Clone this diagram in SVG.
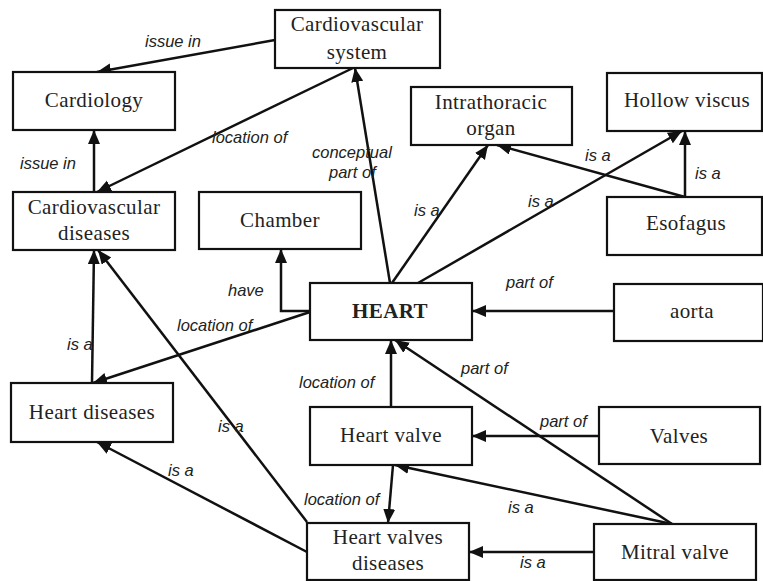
<svg xmlns="http://www.w3.org/2000/svg" width="763" height="581" viewBox="0 0 763 581">
<style>
.box{fill:#fff;stroke:#111;stroke-width:2.2}
.nt{font-family:"Liberation Serif","Times New Roman",serif;font-size:21px;letter-spacing:0.4px;fill:#222;text-anchor:middle}
.bold{font-weight:bold}
.lb{font-family:"Liberation Sans",Arial,sans-serif;font-size:16.5px;font-style:italic;fill:#222}
.c{fill:none;stroke:#111;stroke-width:2.5;marker-end:url(#ah)}
</style>
<defs>
<marker id="ah" markerUnits="userSpaceOnUse" markerWidth="15" markerHeight="13" refX="14" refY="6" orient="auto">
<path d="M0,0 L14,6 L0,12 z" fill="#111"/>
</marker>
</defs>
<rect width="763" height="581" fill="#fff"/>
<g id="connectors">
<line class="c" x1="275" y1="40" x2="97" y2="72"/>
<line class="c" x1="94" y1="192" x2="94" y2="130"/>
<line class="c" x1="353" y1="68" x2="97" y2="192"/>
<line class="c" x1="390" y1="283" x2="355" y2="68"/>
<line class="c" x1="392" y1="283" x2="488" y2="145"/>
<line class="c" x1="418" y1="283" x2="682" y2="131"/>
<line class="c" x1="685" y1="197" x2="497" y2="145"/>
<line class="c" x1="685" y1="197" x2="685" y2="131"/>
<polyline class="c" points="310,311 281,311 281,249"/>
<line class="c" x1="310" y1="312" x2="93" y2="383"/>
<line class="c" x1="92" y1="383" x2="94" y2="250"/>
<line class="c" x1="307" y1="522" x2="98" y2="250"/>
<line class="c" x1="307" y1="552" x2="97" y2="442"/>
<line class="c" x1="391" y1="407" x2="391" y2="340"/>
<line class="c" x1="672" y1="524" x2="395" y2="340"/>
<line class="c" x1="599" y1="436" x2="472" y2="436"/>
<line class="c" x1="393" y1="465" x2="388" y2="523"/>
<line class="c" x1="672" y1="524" x2="395" y2="465"/>
<line class="c" x1="594" y1="552" x2="469" y2="552"/>
<line class="c" x1="614" y1="311" x2="472" y2="311"/>
<text class="lb" x="145" y="47">issue in</text>
<text class="lb" x="20" y="169">issue in</text>
<text class="lb" x="212" y="143">location of</text>
<text class="lb" x="312" y="158">conceptual</text>
<text class="lb" x="329" y="178">part of</text>
<text class="lb" x="414" y="216">is a</text>
<text class="lb" x="528" y="207">is a</text>
<text class="lb" x="585" y="161">is a</text>
<text class="lb" x="695" y="179">is a</text>
<text class="lb" x="228" y="296">have</text>
<text class="lb" x="177" y="331">location of</text>
<text class="lb" x="67" y="350">is a</text>
<text class="lb" x="218" y="432">is a</text>
<text class="lb" x="168" y="476">is a</text>
<text class="lb" x="299" y="388">location of</text>
<text class="lb" x="461" y="374">part of</text>
<text class="lb" x="540" y="427">part of</text>
<text class="lb" x="304" y="505">location of</text>
<text class="lb" x="508" y="513">is a</text>
<text class="lb" x="520" y="568">is a</text>
<text class="lb" x="506" y="288">part of</text>
</g>
<g id="cardiovascular-system"><rect class="box" x="275" y="10" width="165" height="58"/><text class="nt" x="357" y="31">Cardiovascular</text><text class="nt" x="357" y="59">system</text></g>
<g id="cardiology"><rect class="box" x="13" y="72" width="162" height="58"/><text class="nt" x="94" y="107">Cardiology</text></g>
<g id="cardiovascular-diseases"><rect class="box" x="13" y="192" width="162" height="58"/><text class="nt" x="94" y="214">Cardiovascular</text><text class="nt" x="94" y="240">diseases</text></g>
<g id="chamber"><rect class="box" x="199" y="192" width="162" height="57"/><text class="nt" x="280" y="227">Chamber</text></g>
<g id="intrathoracic-organ"><rect class="box" x="411" y="87" width="161" height="58"/><text class="nt" x="491" y="109">Intrathoracic</text><text class="nt" x="491" y="135">organ</text></g>
<g id="hollow-viscus"><rect class="box" x="607" y="73" width="155" height="58"/><text class="nt" x="687" y="107">Hollow viscus</text></g>
<g id="esofagus"><rect class="box" x="607" y="197" width="155" height="58"/><text class="nt" x="686" y="230">Esofagus</text></g>
<g id="heart"><rect class="box" x="310" y="283" width="162" height="57"/><text class="nt bold" x="390" y="318">HEART</text></g>
<g id="aorta"><rect class="box" x="614" y="284" width="149" height="57"/><text class="nt" x="692" y="318">aorta</text></g>
<g id="heart-diseases"><rect class="box" x="11" y="383" width="162" height="59"/><text class="nt" x="92" y="419">Heart diseases</text></g>
<g id="heart-valve"><rect class="box" x="310" y="407" width="162" height="58"/><text class="nt" x="391" y="442">Heart valve</text></g>
<g id="valves"><rect class="box" x="599" y="407" width="161" height="57"/><text class="nt" x="679" y="443">Valves</text></g>
<g id="heart-valves-diseases"><rect class="box" x="307" y="523" width="162" height="57"/><text class="nt" x="388" y="544">Heart valves</text><text class="nt" x="388" y="570">diseases</text></g>
<g id="mitral-valve"><rect class="box" x="594" y="524" width="162" height="56"/><text class="nt" x="675" y="559">Mitral valve</text></g>
</svg>
